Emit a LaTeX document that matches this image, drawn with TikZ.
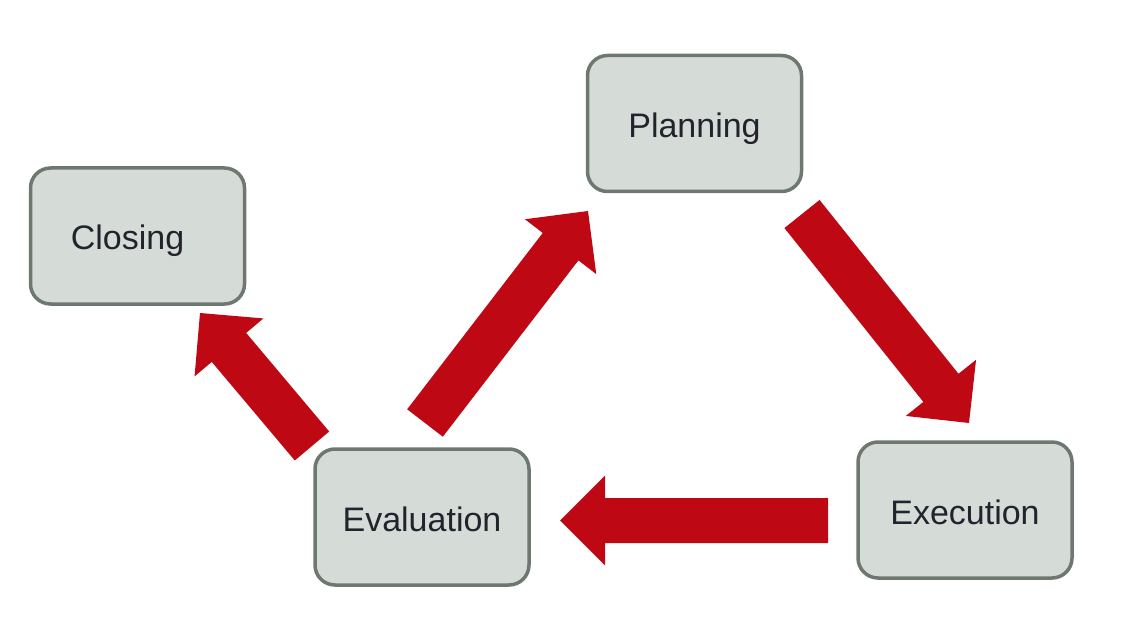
\documentclass[tikz,border=0pt]{standalone}
\usepackage{fontspec}
\setmainfont{Liberation Sans}
\usetikzlibrary{calc}
\definecolor{arrowred}{HTML}{BE0814}
\definecolor{boxline}{HTML}{6E7870}
\definecolor{boxfill}{HTML}{D5DBD7}
\definecolor{boxtext}{HTML}{23232D}
\tikzset{
  stagebox/.style={draw=boxline, fill=boxfill, line width=3.5pt, rounded corners=20pt,
    minimum width=214pt, minimum height=136pt, inner sep=0pt, text=boxtext,
    text height=28pt, text depth=0pt,
    font=\fontsize{34}{40}\selectfont},
}
\newcommand\blockarrow[2]{%
  \path ($(#2)!45pt!(#1)$) coordinate (hb);
  \fill[arrowred] ($(#1)!22.5pt!90:(#2)$) -- ($(hb)!22.5pt!-90:(#1)$) --
    ($(hb)!45pt!-90:(#1)$) -- (#2) -- ($(hb)!45pt!90:(#1)$) --
    ($(hb)!22.5pt!90:(#1)$) -- ($(#1)!22.5pt!-90:(#2)$) -- cycle;
}
\begin{document}
\begin{tikzpicture}[x=1pt,y=-1pt]
\useasboundingbox (0,0) rectangle (1126,644);
\node[stagebox] (plan) at (694.5,123.5) {Planning};
\node[stagebox] (close) at (137.5,236) {\hspace*{-20pt}Closing};
\node[stagebox] (eval) at (422,517) {Evaluation};
\node[stagebox] (exec) at (965,510) {Execution};
\coordinate (a1t) at (425,423); \coordinate (a1h) at (588,211);
\coordinate (a2t) at (802,214); \coordinate (a2h) at (969,423);
\coordinate (a3t) at (828,520.5); \coordinate (a3h) at (560,520.5);
\coordinate (a4t) at (312,446); \coordinate (a4h) at (200,313);
\blockarrow{a1t}{a1h}
\blockarrow{a2t}{a2h}
\blockarrow{a3t}{a3h}
\blockarrow{a4t}{a4h}
\end{tikzpicture}
\end{document}
